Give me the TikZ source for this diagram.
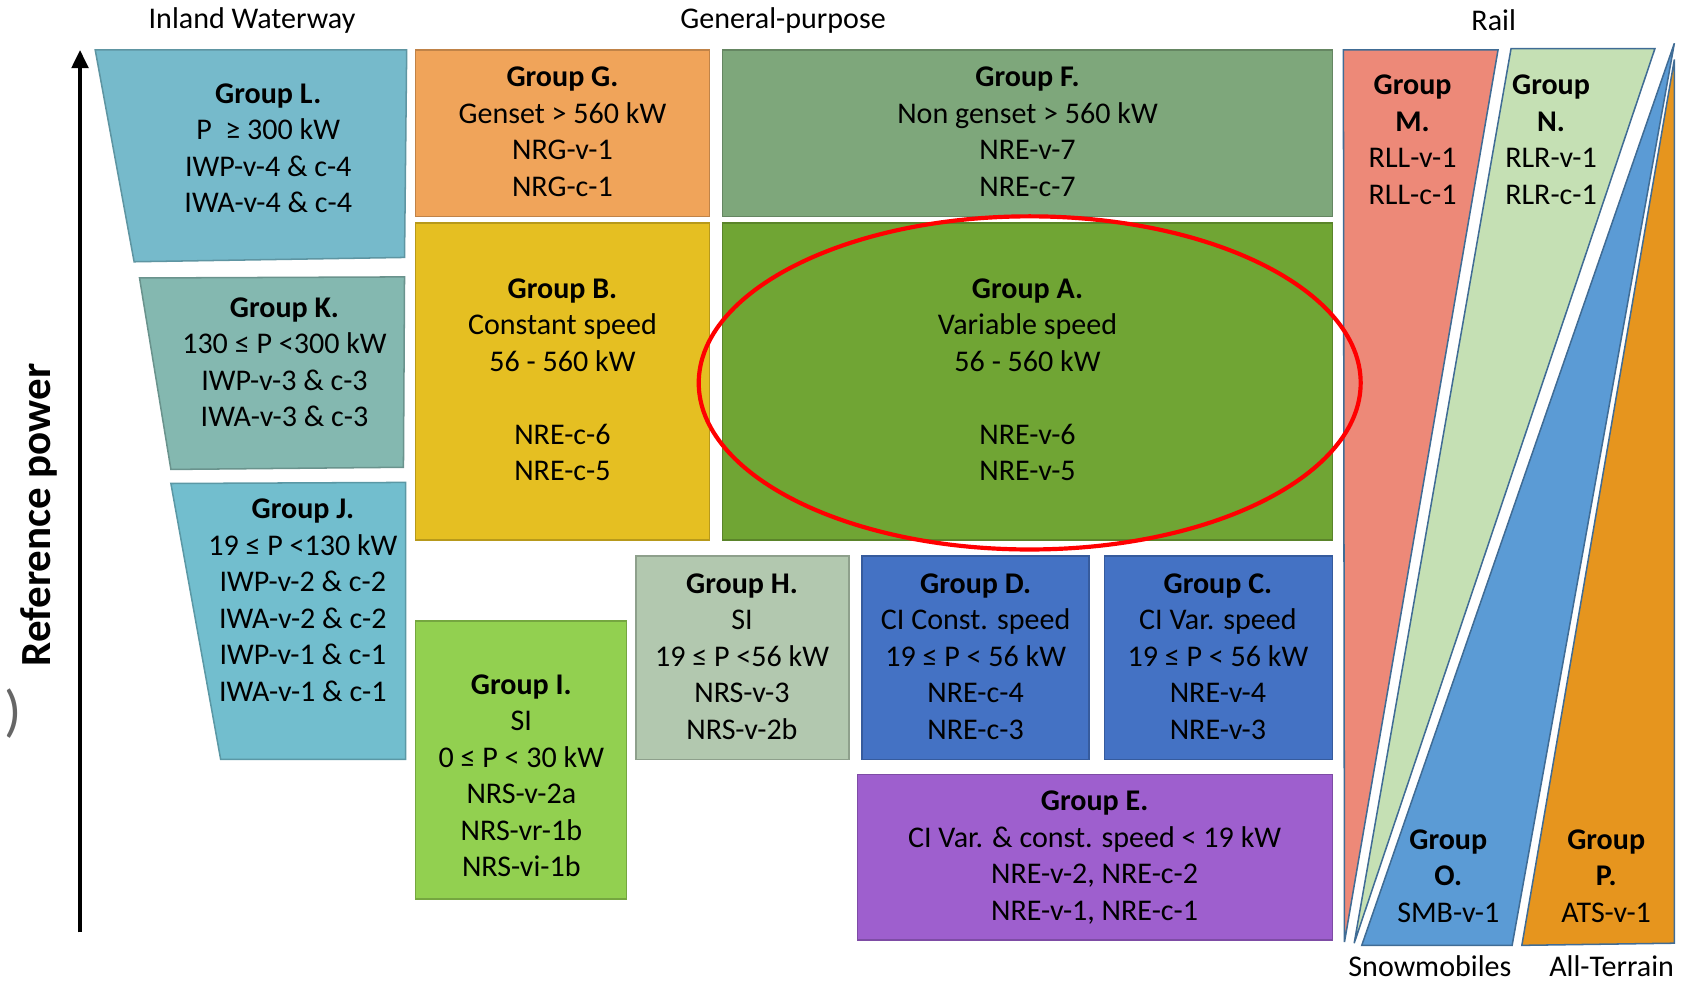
\documentclass[tikz,border=0pt]{standalone}
\usepackage{fontspec}
\setmainfont{Carlito}
\usetikzlibrary{arrows.meta}
\definecolor{cL}{HTML}{76BACB}
\definecolor{cK}{HTML}{84B8B0}
\definecolor{cJ}{HTML}{72BECE}
\definecolor{cG}{HTML}{F0A45A}
\definecolor{cF}{HTML}{7EA77B}
\definecolor{cB}{HTML}{E5BF22}
\definecolor{cA}{HTML}{70A534}
\definecolor{cH}{HTML}{B2C8AF}
\definecolor{cD}{HTML}{4472C4}
\definecolor{cI}{HTML}{92D050}
\definecolor{cE}{HTML}{9E5FCE}
\definecolor{cM}{HTML}{ED8978}
\definecolor{cN}{HTML}{C5E0B4}
\definecolor{cO}{HTML}{5B9BD5}
\definecolor{cP}{HTML}{E6951E}
\begin{document}
\begin{tikzpicture}[x=0.01cm,y=-0.01cm,
  txt/.style={align=center,font=\fontsize{7.9}{9.6}\selectfont,inner sep=0pt},
  box/.style={fill=#1,draw=#1!80!black,line width=0.4pt},
  wedge/.style={fill=#1,draw=cO!70!black,line width=0.4pt}]
\useasboundingbox (0,0) rectangle (1568,908);
% headings
\node[txt](hiw)at(233,19){Inland Waterway};
\node[txt](hgp)at(724,19){General-purpose};
\node[txt](hrl)at(1381,19){Rail};
\node[txt](hsm)at(1322,893){Snowmobiles};
\node[txt](hat)at(1490,893){All-Terrain};
% power axis
\coordinate(pbot)at(74,862);\coordinate(ptop)at(74,46);
\draw[line width=1.2pt,-{Triangle[length=0.17cm,width=0.15cm]}](pbot)--(ptop);
\node[rotate=90,font=\fontsize{11.3}{13}\selectfont\bfseries](rp)at(36,476){Reference power};
\node[font=\fontsize{15}{16}\selectfont,text=black!60](par)at(12,660){)};
% inland waterway
\path[box=cL](88,46)--(376,46)--(374,238)--(124,242)--cycle;
\path[box=cK](129,257)--(374,256)--(373,432)--(158,434)--cycle;
\path[box=cJ](158,447)--(375,446)--(375,702)--(204,702)--cycle;
\node[txt](gl)at(248,137){\textbf{Group L.}\\P~ ≥ 300 kW\\IWP-v-4 \& c-4\\IWA-v-4 \& c-4};
\node[txt](gk)at(263,335){\textbf{Group K.}\\130 ≤ P <300 kW\\IWP-v-3 \& c-3\\IWA-v-3 \& c-3};
\node[txt](gj)at(280,555){\textbf{Group J.}\\19 ≤ P <130 kW\\IWP-v-2 \& c-2\\IWA-v-2 \& c-2\\IWP-v-1 \& c-1\\IWA-v-1 \& c-1};
% general purpose
\path[box=cG](384,46)rectangle(656,200);
\path[box=cF](668,46)rectangle(1232,200);
\path[box=cB](384,206)rectangle(656,499);
\path[box=cA](668,206)rectangle(1232,499);
\path[box=cH](588,514)rectangle(785,702);
\path[box=cD](797,514)rectangle(1007,702);
\path[box=cD](1021,514)rectangle(1232,702);
\path[box=cI](384,574)rectangle(579,831);
\path[box=cE](793,716)rectangle(1232,869);
\node[txt](gg)at(520,122){\textbf{Group G.}\\Genset > 560 kW\\NRG-v-1\\NRG-c-1};
\node[txt](gf)at(950,122){\textbf{Group F.}\\Non genset > 560 kW\\NRE-v-7\\NRE-c-7};
\node[txt](gb)at(520,351){\textbf{Group B.}\\Constant speed\\56 - 560 kW\\[9.6pt]NRE-c-6\\NRE-c-5};
\node[txt](ga)at(950,351){\textbf{Group A.}\\Variable speed\\56 - 560 kW\\[9.6pt]NRE-v-6\\NRE-v-5};
\node[txt](gh)at(686,607){\textbf{Group H.}\\SI\\19 ≤ P <56 kW\\NRS-v-3\\NRS-v-2b};
\node[txt](gd)at(902,607){\textbf{Group D.}\\CI Const. speed\\19 ≤ P < 56 kW\\NRE-c-4\\NRE-c-3};
\node[txt](gc)at(1126,607){\textbf{Group C.}\\CI Var. speed\\19 ≤ P < 56 kW\\NRE-v-4\\NRE-v-3};
\node[txt](gi)at(482,717){\textbf{Group I.}\\SI\\0 ≤ P < 30 kW\\NRS-v-2a\\NRS-vr-1b\\NRS-vi-1b};
\node[txt](ge)at(1012,793){\textbf{Group E.}\\CI Var. \& const. speed < 19 kW\\NRE-v-2, NRE-c-2\\NRE-v-1, NRE-c-1};
% rail, snowmobiles, all-terrain
\path[wedge=cM](1242,46)--(1385,46)--(1243,871)--cycle;
\path[wedge=cN](1397,45)--(1530,45)--(1252,872)--cycle;
\path[wedge=cO](1259,874)--(1398,874)--(1548,40)--cycle;
\path[wedge=cP](1407,874)--(1548,872)--(1548,55)--cycle;
\node[txt](gm)at(1306,129){\textbf{Group}\\\textbf{M.}\\RLL-v-1\\RLL-c-1};
\node[txt](gn)at(1434,129){\textbf{Group}\\\textbf{N.}\\RLR-v-1\\RLR-c-1};
\node[txt](go)at(1339,810){\textbf{Group}\\\textbf{O.}\\SMB-v-1};
\node[txt](gp)at(1485,810){\textbf{Group}\\\textbf{P.}\\ATS-v-1};
% highlight
\draw[red,line width=1.1pt](952,354)ellipse[x radius=306,y radius=154];
\end{tikzpicture}
\end{document}
